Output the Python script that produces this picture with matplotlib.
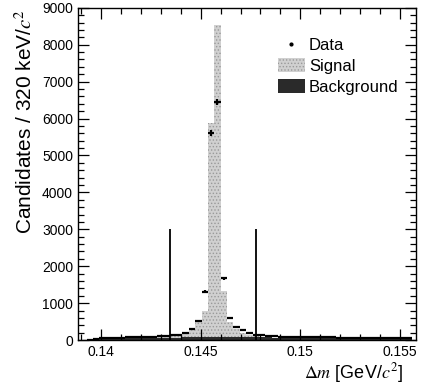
import numpy as np
import matplotlib
matplotlib.use("Agg")
import matplotlib.pyplot as plt
from matplotlib.lines import Line2D
from matplotlib.patches import Patch
from matplotlib.ticker import MultipleLocator

plt.rcParams['font.family'] = ['Liberation Sans', 'DejaVu Sans']
plt.rcParams['mathtext.fontset'] = 'stix'
plt.rcParams['hatch.color'] = '#9a9a9a'
plt.rcParams['hatch.linewidth'] = 0.6

# binning: 320 keV bins
bin_width = 0.00032
first_edge = 0.139285
n_bins = 51

# candidates per bin
data = [5, 30, 45, 55, 60, 65, 70, 75, 80, 85, 90, 100, 110, 125,
        135, 200, 290, 525, 1310, 5610, 6450, 1670, 590, 360, 270, 200,
        150, 125, 110, 100, 95, 90, 85, 80, 80, 75, 75, 70, 70, 65, 65,
        60, 60, 60, 55, 55, 55, 50, 50, 50, 50]

background = [0, 15, 25, 30, 35, 40, 45, 50, 52, 55,
              58, 60, 62, 65, 68, 70, 72, 74, 75, 76,
              77, 77, 76, 75, 74, 73, 72, 71, 70, 69,
              68, 67, 66, 65, 64, 63, 62, 61, 60, 59,
              58, 57, 56, 55, 55, 54, 53, 52, 52, 51, 50]

signal = [0, 0, 0, 0, 0, 0, 0, 0, 0, 0,
          5, 10, 20, 40, 70, 130, 220, 420, 700, 5800,
          8450, 1240, 420, 220, 120, 70, 40, 20, 10, 0,
          0, 0, 0, 0, 0, 0, 0, 0, 0, 0,
          0, 0, 0, 0, 0, 0, 0, 0, 0, 0, 0]

# signal window lines
cut_lo, cut_hi, cut_height = 0.14345, 0.14775, 3000

edges = first_edge + bin_width * np.arange(n_bins + 1)
centers = 0.5 * (edges[:-1] + edges[1:])
data = np.array(data, dtype=float)
background = np.array(background, dtype=float)
signal = np.array(signal, dtype=float)

fig = plt.figure(figsize=(4.33, 3.9), dpi=100)
ax = fig.add_axes([0.180, 0.128, 0.781, 0.852])

# stacked: background then signal on top
ax.bar(centers, signal, width=bin_width, bottom=background,
       color='#d0d0d0', hatch='.....', linewidth=0, align='center')
ax.bar(centers, background, width=bin_width, color='#2a2a2a',
       linewidth=0, align='center')

ax.errorbar(centers, data, xerr=bin_width / 2, yerr=np.sqrt(data),
            fmt='none', ecolor='black', elinewidth=1.6, capsize=0)

ax.vlines([cut_lo, cut_hi], 0, cut_height, color='black', linewidth=1.3)

ax.set_xlim(0.13885, 0.1558)
ax.set_ylim(0, 9000)
ax.set_xticks([0.14, 0.145, 0.15, 0.155])
ax.set_xticklabels(['0.14', '0.145', '0.15', '0.155'])
ax.xaxis.set_minor_locator(MultipleLocator(0.001))
ax.yaxis.set_major_locator(MultipleLocator(1000))
ax.yaxis.set_minor_locator(MultipleLocator(200))
ax.tick_params(which='both', direction='in', top=True, right=True,
               labelsize=10, width=0.9)
ax.tick_params(which='major', length=8)
ax.tick_params(which='minor', length=4)
for s in ax.spines.values():
    s.set_linewidth(1.0)

ax.set_xlabel(r'$\Delta m$ [GeV/$c^2$]', fontsize=13, loc='right')
ax.xaxis.set_label_coords(0.96, -0.062)
ax.set_ylabel(r'Candidates / 320 keV/$c^2$', fontsize=15, loc='top')
ax.yaxis.set_label_coords(-0.125, 0.995)

handles = [
    Line2D([], [], marker='.', color='black', linestyle='none', markersize=4),
    Patch(facecolor='#d0d0d0', hatch='.....', linewidth=0),
    Patch(facecolor='#2a2a2a', linewidth=0),
]
ax.legend(handles, ['Data', 'Signal', 'Background'], loc='upper left',
          bbox_to_anchor=(0.592, 0.91), frameon=False, fontsize=12,
          borderpad=0, borderaxespad=0,
          handlelength=1.6, handleheight=0.9, handletextpad=0.25,
          labelspacing=0.3)

fig.savefig('out.png', dpi=100)
